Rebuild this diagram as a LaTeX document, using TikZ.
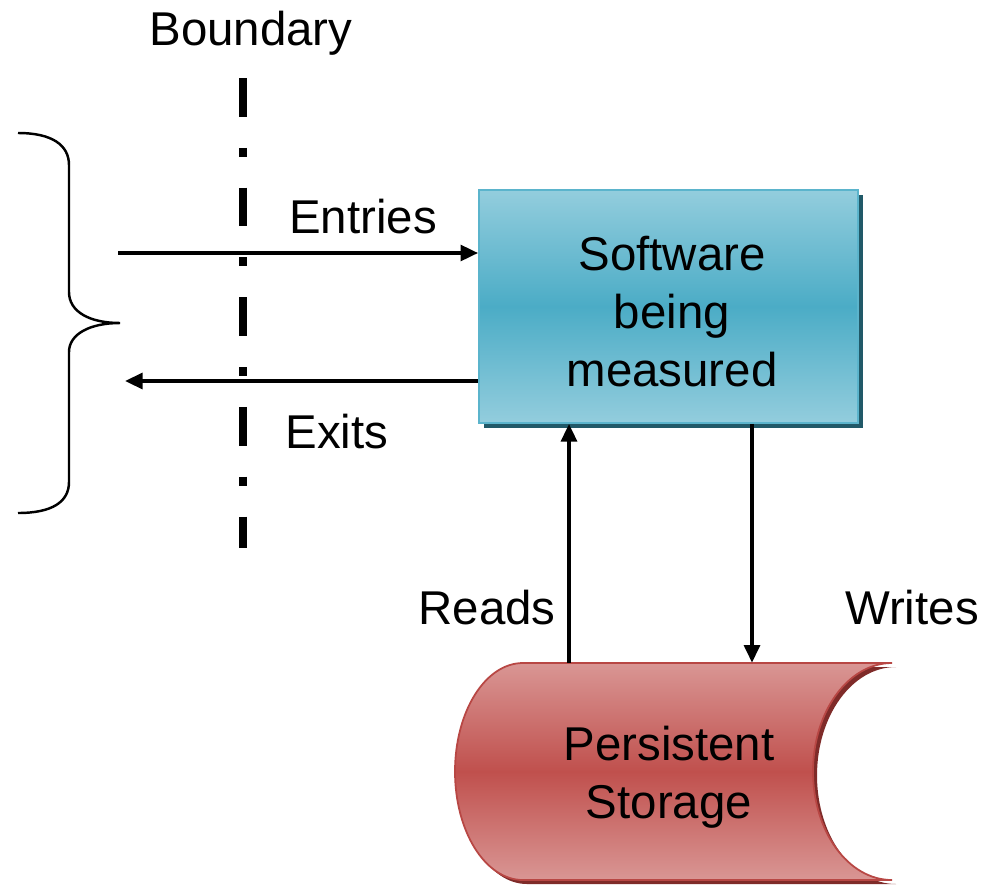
\documentclass[tikz,border=0pt]{standalone}
\usepackage{fontspec}
\setmainfont{Liberation Sans}
\usetikzlibrary{arrows.meta,calc}
\definecolor{swtop}{HTML}{93CDDD}
\definecolor{swmid}{HTML}{4BACC6}
\definecolor{swedge}{HTML}{5BB4CC}
\definecolor{swshd}{HTML}{215968}
\definecolor{sttop}{HTML}{D99694}
\definecolor{stmid}{HTML}{C0504D}
\definecolor{stedge}{HTML}{B84744}
\definecolor{stshd}{HTML}{7F2B29}
\begin{document}
\begin{tikzpicture}[x=0.02cm, y=-0.02cm]
        \tikzstyle{txt} = [font=\fontsize{27}{33}\selectfont, inner sep=0pt, align=center]
        \tikzstyle{arr} = [draw, black, line width=2pt, -{Triangle[length=10pt,width=9pt]}]
        \tikzstyle{bnd} = [draw, black, line width=5.1pt, dash pattern=on 22.1pt off 17.6pt on 5.1pt off 17.6pt]
        \tikzstyle{brc} = [draw, black, line width=1.4pt]
        \tikzstyle{swbox} = [draw=swedge, line width=1.1pt, top color=swtop, bottom color=swtop, middle color=swmid, minimum width=7.58cm, minimum height=4.66cm]
        \tikzstyle{stbody} = [draw=stedge, line width=1pt, top color=sttop, bottom color=sttop, middle color=stmid]

        \useasboundingbox (0,0) rectangle (1000,886);

        % boundary
        \node[txt, anchor=base] (bndlbl) at (251,45) {Boundary};
        \path[bnd] (243,78) -- (243,548);

        % brace
        \path[brc] (18,133) .. controls (52,133) and (69,145) .. (69,165) -- (69,292)
            .. controls (69,312) and (90,323) .. (120,323)
            .. controls (90,323) and (69,334) .. (69,352) -- (69,482)
            .. controls (69,502) and (52,513) .. (18,513);

        % software
        \fill[swshd] (484,195) rectangle (863,428);
        \node[swbox] (sw) at (668.5,306.5) {};
        \node[txt] (swtxt) at (672,312) {Software\\being\\measured};

        % storage
        \begin{scope}[shift={(4,4)}]
            \fill[stshd] (523,663) -- (892,663) .. controls (848,663) and (813,712) .. (813,771.5)
                .. controls (813,831) and (848,880) .. (892,880) -- (523,880)
                .. controls (485,880) and (455,831) .. (455,771.5)
                .. controls (455,712) and (485,663) .. (523,663) -- cycle;
        \end{scope}
        \path[stbody] (523,663) -- (892,663) .. controls (848,663) and (813,712) .. (813,771.5)
            .. controls (813,831) and (848,880) .. (892,880) -- (523,880)
            .. controls (485,880) and (455,831) .. (455,771.5)
            .. controls (455,712) and (485,663) .. (523,663) -- cycle;
        \node[minimum width=8.74cm, minimum height=4.34cm] (ps) at (673.5,771.5) {};
        \node[txt] (pstxt) at (669,777) {Persistent\\Storage};

        % flows
        \coordinate (src) at (118,253);
        \coordinate (snk) at (125,381);
        \coordinate (rd) at ($(ps.north)+(-104.5,0)$);
        \coordinate (wr) at ($(sw.south)+(83.5,0)$);

        \path[arr] (src) to (src -| sw.west);
        \path[arr] (snk -| sw.west) to (snk);
        \path[arr] (rd) to (rd |- sw.south);
        \path[arr] (wr) to (wr |- ps.north);

        \node[txt, anchor=base] (ent) at (363,233) {Entries};
        \node[txt, anchor=base] (ext) at (337,448) {Exits};
        \node[txt, anchor=base] (rds) at (487,624) {Reads};
        \node[txt, anchor=base] (wrt) at (912,624) {Writes};
    \end{tikzpicture}
\end{document}
